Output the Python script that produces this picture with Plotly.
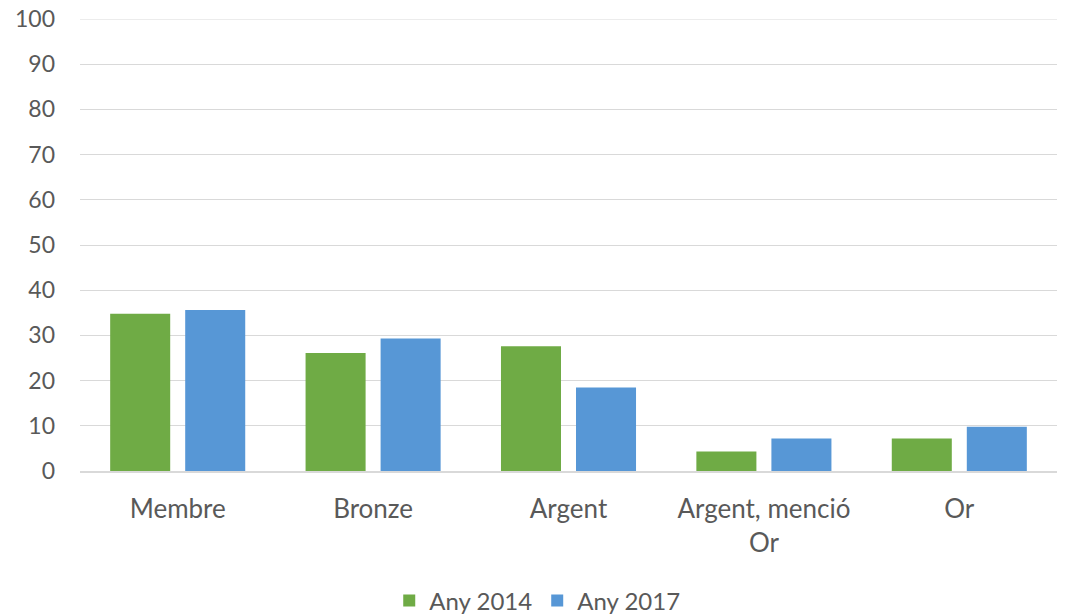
import plotly.graph_objects as go

categories = ["Membre", "Bronze", "Argent", "Argent, menció<br>Or", "Or"]
any_2014 = [34.8, 26.1, 27.6, 4.3, 7.2]
any_2017 = [35.6, 29.3, 18.5, 7.2, 9.8]
series_names = ["Any 2014", "Any 2017"]
y_ticks = [0, 10, 20, 30, 40, 50, 60, 70, 80, 90, 100]

green = "#6fab45"
blue = "#5797d6"
text_color = "#595959"
font_family = "Lato, 'Open Sans', sans-serif"

fig = go.Figure()
fig.add_trace(go.Bar(x=categories, y=any_2014, name=series_names[0],
                     marker=dict(color=green, line=dict(width=0))))
fig.add_trace(go.Bar(x=categories, y=any_2017, name=series_names[1],
                     marker=dict(color=blue, line=dict(width=0))))

fig.update_layout(
    width=1066, height=615,
    margin=dict(l=80, r=9, t=19, b=144, autoexpand=False),
    paper_bgcolor="white", plot_bgcolor="white",
    barmode="group", bargap=0.232, bargroupgap=0.2,
    font=dict(family=font_family, color=text_color, size=23),
    showlegend=True,
    legend=dict(orientation="h", x=0.468, xanchor="center", y=-0.2876, yanchor="middle",
                font=dict(size=24, color=text_color), traceorder="normal", itemwidth=30),
    xaxis=dict(showgrid=False, showline=True, linecolor="#d9d9d9", linewidth=1.5,
               ticks="", tickfont=dict(size=26), ticklabelstandoff=14, automargin=False,
               fixedrange=True),
    yaxis=dict(range=[0, 100], tickvals=y_ticks, showgrid=True, gridcolor="#d9d9d9",
               gridwidth=1, zeroline=False, showline=False, ticks="",
               tickfont=dict(size=23), ticklabelstandoff=24, automargin=False,
               ticklabeloverflow="allow"),
)

# top gridline at 100 (plotly drops gridlines lying on the plot edge)
fig.add_hline(y=y_ticks[-1], line=dict(color="#d9d9d9", width=1))

fig.write_html("out.html", config={"displayModeBar": False},
               post_script="document.body.style.margin='0';document.body.style.overflow='hidden';")
